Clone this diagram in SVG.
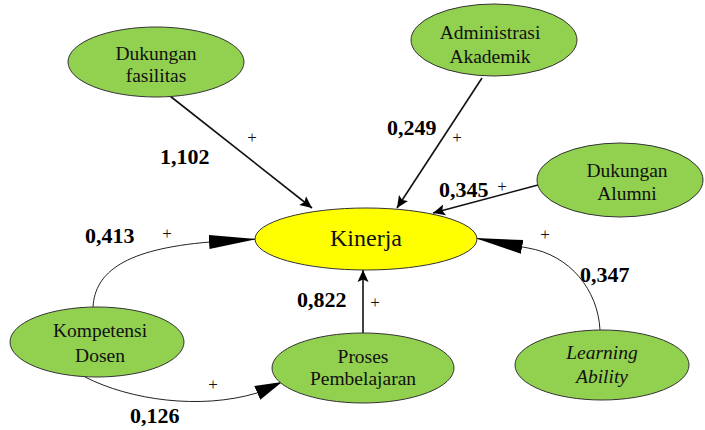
<svg xmlns="http://www.w3.org/2000/svg" width="705" height="430" viewBox="0 0 705 430">
  <style>
    .node { fill: #92D050; stroke: #333; stroke-width: 1; }
    .core { fill: #FFFF00; stroke: #333; stroke-width: 1; }
    text { font-family: Liberation Serif, Times New Roman, Times, serif; }
    .lbl { font-size: 19.5px; fill: #111; text-anchor: middle; }
    .big { font-size: 24px; }
    .it { font-style: italic; }
    .edge { fill: none; stroke: #111; stroke-width: 1.6; }
    .curve { fill: none; stroke: #222; stroke-width: 1; }
    .coef { font-size: 22px; font-weight: bold; fill: #000; }
    .sign { font-size: 17px; fill: #111; text-anchor: middle; }
  </style>
  <defs>
    <marker id="head" markerUnits="userSpaceOnUse" markerWidth="14" markerHeight="12" refX="12" refY="6" orient="auto">
      <path d="M0,0.5 L12,6 L0,11.5 L2.5,6 z" fill="#000"/>
    </marker>
    <marker id="longHead" markerUnits="userSpaceOnUse" markerWidth="50" markerHeight="16" refX="48" refY="7" orient="auto">
      <path d="M0,0 L48,7 L0,14 z" fill="#000"/>
    </marker>
    <marker id="shortHead" markerUnits="userSpaceOnUse" markerWidth="30" markerHeight="16" refX="27" refY="7.5" orient="auto">
      <path d="M0,0 L27,7.5 L0,15 z" fill="#000"/>
    </marker>
  </defs>

  <g id="connectors">
    <line class="edge" x1="170" y1="96" x2="312" y2="208" marker-end="url(#head)"/>
    <line class="edge" x1="482" y1="78" x2="397" y2="208" marker-end="url(#head)"/>
    <line class="edge" x1="538" y1="185" x2="433" y2="213" marker-end="url(#head)"/>
    <line class="edge" x1="363" y1="333" x2="363" y2="270" marker-end="url(#head)"/>
    <path class="curve" d="M93,307 C95,272 125,249 210,242 L257,239" marker-end="url(#longHead)"/>
    <path class="curve" d="M85,377 C130,400 200,410 257,393 L282,382" marker-end="url(#shortHead)"/>
    <path class="curve" d="M600,330 C598,290 570,255 528,248 L475,238" marker-end="url(#longHead)"/>

    <text class="coef" x="160" y="164">1,102</text>
    <text class="sign" x="252" y="143">+</text>
    <text class="coef" x="387" y="135">0,249</text>
    <text class="sign" x="457" y="143">+</text>
    <text class="coef" x="439" y="197">0,345</text>
    <text class="sign" x="502" y="192">+</text>
    <text class="coef" x="85" y="243">0,413</text>
    <text class="sign" x="167" y="239">+</text>
    <text class="coef" x="297" y="307">0,822</text>
    <text class="sign" x="375" y="308">+</text>
    <text class="coef" x="130" y="423">0,126</text>
    <text class="sign" x="213" y="390">+</text>
    <text class="coef" x="580" y="282">0,347</text>
    <text class="sign" x="545" y="240">+</text>
  </g>

  <g id="dukungan-fasilitas">
    <ellipse class="node" cx="156" cy="62" rx="88" ry="35"/>
    <text class="lbl" x="156" y="60">Dukungan</text>
    <text class="lbl" x="156" y="82">fasilitas</text>
  </g>

  <g id="administrasi-akademik">
    <ellipse class="node" cx="494" cy="40" rx="83" ry="36"/>
    <text class="lbl" x="490" y="39">Administrasi</text>
    <text class="lbl" x="490" y="63">Akademik</text>
  </g>

  <g id="dukungan-alumni">
    <ellipse class="node" cx="620" cy="180" rx="83" ry="37"/>
    <text class="lbl" x="627" y="177">Dukungan</text>
    <text class="lbl" x="627" y="200">Alumni</text>
  </g>

  <g id="kinerja">
    <ellipse class="core" cx="366" cy="239" rx="111" ry="31"/>
    <text class="lbl big" x="366" y="246">Kinerja</text>
  </g>

  <g id="kompetensi-dosen">
    <ellipse class="node" cx="97" cy="342" rx="87" ry="35"/>
    <text class="lbl" x="100" y="337">Kompetensi</text>
    <text class="lbl" x="100" y="362">Dosen</text>
  </g>

  <g id="proses-pembelajaran">
    <ellipse class="node" cx="363" cy="368" rx="91" ry="35"/>
    <text class="lbl" x="363" y="363">Proses</text>
    <text class="lbl" x="363" y="385">Pembelajaran</text>
  </g>

  <g id="learning-ability">
    <ellipse class="node" cx="602" cy="365" rx="87" ry="35"/>
    <text class="lbl it" x="602" y="359">Learning</text>
    <text class="lbl it" x="602" y="383">Ability</text>
  </g>
</svg>
